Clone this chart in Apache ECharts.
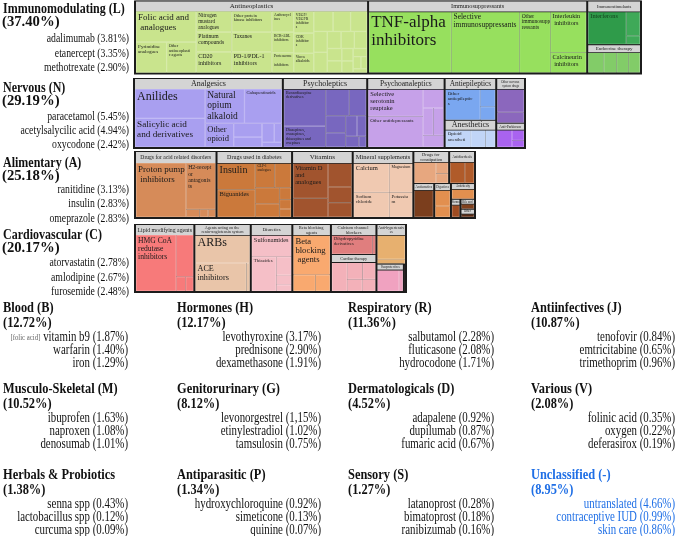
<!DOCTYPE html>
<html>
<head>
<meta charset="utf-8">
<script src="https://cdn.jsdelivr.net/npm/echarts@6.0.0/dist/echarts.min.js"></script>
<style>html,body{margin:0;padding:0;background:#fff}#chart{width:676px;height:536px}</style>
</head>
<body>
<div id="chart"></div>
<script>
// ================= DATA =================
// Top-4 therapeutic classes (left labels)
const mainClasses = ['Immunomodulating (L)', 'Nervous (N)', 'Alimentary (A)', 'Cardiovascular (C)'];
const mainShares = [37.40, 29.19, 25.18, 20.17];
const mainDrugs = [
  [['adalimumab', '3.81'], ['etanercept', '3.35'], ['methotrexate', '2.90']],
  [['paracetamol', '5.45'], ['acetylsalycilic acid', '4.94'], ['oxycodone', '2.42']],
  [['ranitidine', '3.13'], ['insulin', '2.83'], ['omeprazole', '2.83']],
  [['atorvastatin', '2.78'], ['amlodipine', '2.67'], ['furosemide', '2.48']]
];
// Other classes (bottom grid)
const otherClasses = ['Blood (B)', 'Hormones (H)', 'Respiratory (R)', 'Antiinfectives (J)',
  'Musculo-Skeletal (M)', 'Genitorurinary (G)', 'Dermatologicals (D)', 'Various (V)',
  'Herbals & Probiotics', 'Antiparasitic (P)', 'Sensory (S)', 'Unclassified (-)'];
const otherShares = [12.72, 12.17, 11.36, 10.87, 10.52, 8.12, 4.52, 2.08, 1.38, 1.34, 1.27, 8.95];
const otherDrugs = [
  [['vitamin b9', '1.87'], ['warfarin', '1.40'], ['iron', '1.29']],
  [['levothyroxine', '3.17'], ['prednisone', '2.90'], ['dexamethasone', '1.91']],
  [['salbutamol', '2.28'], ['fluticasone', '2.08'], ['hydrocodone', '1.71']],
  [['tenofovir', '0.84'], ['emtricitabine', '0.65'], ['trimethoprim', '0.96']],
  [['ibuprofen', '1.63'], ['naproxen', '1.08'], ['denosumab', '1.01']],
  [['levonorgestrel', '1,15'], ['etinylestradiol', '1.02'], ['tamsulosin', '0.75']],
  [['adapalene', '0.92'], ['dupilumab', '0.87'], ['fumaric acid', '0.67']],
  [['folinic acid', '0.35'], ['oxygen', '0.22'], ['deferasirox', '0.19']],
  [['senna spp', '0.43'], ['lactobacillus spp', '0.12'], ['curcuma spp', '0.09']],
  [['hydroxychloroquine', '0.92'], ['simeticone', '0.13'], ['quinine', '0.07']],
  [['latanoprost', '0.28'], ['bimatoprost', '0.18'], ['ranibizumab', '0.16']],
  [['untranslated', '4.66'], ['contraceptive IUD', '0.99'], ['skin care', '0.86']]
];

// Treemap level-2 groups per class, with their sizes
const immunoGroups = ['Antineoplastics', 'Immunosuppressants', 'Immunostimulants', 'Endocrine therapy'];
const immunoSizes = [17316, 16280, 2430, 1566];
const nervousGroups = ['Analgesics', 'Psycholeptics', 'Psychoanaleptics', 'Antiepileptics', 'Anesthetics', 'Other nervous system drugs', 'Anti-Parkinson drugs'];
const nervousSizes = [10650, 6035, 5538, 2236, 1456, 1334, 725];
const alimentaryGroups = ['Drugs for acid related disorders', 'Drugs used in diabetes', 'Vitamins', 'Mineral supplements', 'Drugs for constipation', 'Antidiarrheals', 'Antiemetics', 'Digestives', 'Antiobesity', 'Stomatological preparations', 'Bile and liver therapy', 'Other alimentary tract products'];
const alimentarySizes = [5576, 5168, 4148, 4148, 1188, 858, 735, 588, 392, 180, 150, 125];
const cardioGroups = ['Lipid modifying agents', 'Agents acting on the renin-angiotensin system', 'Diuretics', 'Beta blocking agents', 'Calcium channel blockers', 'Cardiac therapy', 'Anti-hypertensives', 'Vasoprotectives', 'Peripheral vasodilators'];
const cardioSizes = [4140, 3933, 2898, 2691, 1426, 1748, 1218, 783, 60];

// Named level-3 cells and unnamed small cells
const antineoplasticsCells = [['Folic acid and analogues', 1950], ['Pyrimidine analogues', 990], ['Other antineoplastic agents', 960],
  ['Nitrogen mustard analogues', 780], ['Platinum compounds', 740], ['CD20 inhibitors', 780],
  ['Other protein kinase inhibitors', 880], ['Taxanes', 840], ['PD-1/PDL-1 inhibitors', 880],
  ['Anthracyclines', 480], ['BCR-ABL inhibitors', 480], ['Proteasome inhibitors', 460], ['VEGF/VEGFR inhibitors', 460],
  ['CDK inhibitors', 430], ['Vinca alkaloids', 410]];
const antineoplasticsMinor = [410, 370, 350, 300, 290, 250, 240, 230, 190, 180, 150, 140, 120, 100, 80, 56];
const immunosuppressantsCells = [['TNF-alpha inhibitors', 5312], ['Selective immunosuppressants', 4400], ['Other immunosuppressants', 2000], ['Interleukin inhibitors', 1548], ['Calcineurin inhibitors', 756]];
const immunostimulantsCells = [['Interferons', 1350]];
const immunostimulantsMinor = [360, 126];
const endocrineMinor = [340, 280, 260, 250];

const analgesicsCells = [['Anilides', 2200], ['Salicylic acid and derivatives', 2150], ['Natural opium alkaloids', 1440], ['Gabapentinoids', 1368], ['Other opioids', 725]];
const analgesicsMinor = [420, 300, 250, 155, 100];
const psycholepticsCells = [['Benzodiazepine derivatives', 1638], ['Diazepines, oxazepines, thiazepines and oxepines', 924]];
const psycholepticsMinor = [667, 475, 360, 300, 250, 200, 150, 84];
const psychoanalepticsCells = [['Selective serotonin reuptake inhibitors', 1600], ['Other antidepressants', 1800]];
const psychoanalepticsMinor = [420, 302, 300, 260];
const antiepilepticsCells = [['Other antiepileptics', 1196]];
const antiepilepticsMinor = [300, 220];
const anestheticsCells = [['Opioid anesthetics', 520]];
const anestheticsMinor = [300, 200];
const otherNervousMinor = [600, 270];
const antiParkinsonMinor = [400, 200, 125];

const acidCells = [['Proton pump inhibitors', 2907], ['H2-receptor antagonists', 1470]];
const acidMinor = [110, 70, 60];
const diabetesCells = [['Insulin', 1092], ['Biguanides', 1131], ['GLP-1 analogues', 520]];
const diabetesMinor = [442, 425, 350, 150, 120, 100];
const vitaminsCells = [['Vitamin D and analogues', 1360]];
const vitaminsMinor = [714, 621, 408, 374];
const mineralCells = [['Calcium', 1147], ['Sodium chloride', 962], ['Magnesium', 744], ['Potassium', 624]];
const constipationMinor = [520, 160, 130];
const antidiarrhealsMinor = [350, 220];
const antiemeticsMinor = [580];
const digestivesMinor = [250, 170];
const antiobesityMinor = [250];
const stomatologicalMinor = [100];
const bileMinor = [90];
const otherAlimentaryMinor = [70];

const lipidCells = [['HMG CoA redutase inhibitors', 2478]];
const lipidMinor = [792, 150, 120];
const rasCells = [['ARBs', 1600], ['ACE inhibitors', 1500]];
const rasMinor = [100];
const diureticsCells = [['Sulfonamides', 936], ['Thiazides', 910]];
const diureticsMinor = [300, 160, 100];
const betaCells = [['Beta blocking agents', 1638]];
const betaMinor = [400, 263];
const ccbCells = [['Dihydropyridine derivatives', 900]];
const ccbMinor = [66];
const cardiacMinor = [500, 300, 250, 200, 176];
const antihypMinor = [700, 128];
const vasoMinor = [450, 80];
const peripheralMinor = [60];

// ================= STYLE / LAYOUT =================
const SERIF = '"Liberation Serif", "Times New Roman", serif';
const DARK = '#1c1c1c';
const HEADER_BG = '#d4d4d4';
const SX = 0.8; // horizontal text compression seen in the picture

const groupCells = {
  'Antineoplastics': antineoplasticsCells, 'Immunosuppressants': immunosuppressantsCells, 'Immunostimulants': immunostimulantsCells,
  'Analgesics': analgesicsCells, 'Psycholeptics': psycholepticsCells, 'Psychoanaleptics': psychoanalepticsCells,
  'Antiepileptics': antiepilepticsCells, 'Anesthetics': anestheticsCells,
  'Drugs for acid related disorders': acidCells, 'Drugs used in diabetes': diabetesCells, 'Vitamins': vitaminsCells, 'Mineral supplements': mineralCells,
  'Lipid modifying agents': lipidCells, 'Agents acting on the renin-angiotensin system': rasCells, 'Diuretics': diureticsCells,
  'Beta blocking agents': betaCells, 'Calcium channel blockers': ccbCells
};
const groupMinor = {
  'Antineoplastics': antineoplasticsMinor, 'Immunostimulants': immunostimulantsMinor, 'Endocrine therapy': endocrineMinor,
  'Analgesics': analgesicsMinor, 'Psycholeptics': psycholepticsMinor, 'Psychoanaleptics': psychoanalepticsMinor,
  'Antiepileptics': antiepilepticsMinor, 'Anesthetics': anestheticsMinor, 'Other nervous system drugs': otherNervousMinor, 'Anti-Parkinson drugs': antiParkinsonMinor,
  'Drugs for acid related disorders': acidMinor, 'Drugs used in diabetes': diabetesMinor, 'Vitamins': vitaminsMinor,
  'Drugs for constipation': constipationMinor, 'Antidiarrheals': antidiarrhealsMinor, 'Antiemetics': antiemeticsMinor, 'Digestives': digestivesMinor,
  'Antiobesity': antiobesityMinor, 'Stomatological preparations': stomatologicalMinor, 'Bile and liver therapy': bileMinor, 'Other alimentary tract products': otherAlimentaryMinor,
  'Lipid modifying agents': lipidMinor, 'Agents acting on the renin-angiotensin system': rasMinor, 'Diuretics': diureticsMinor,
  'Beta blocking agents': betaMinor, 'Calcium channel blockers': ccbMinor, 'Cardiac therapy': cardiacMinor,
  'Anti-hypertensives': antihypMinor, 'Vasoprotectives': vasoMinor, 'Peripheral vasodilators': peripheralMinor
};
const groupColor = {
  'Antineoplastics': '#c9e48d', 'Immunosuppressants': '#97e05e', 'Immunostimulants': '#3fa958', 'Endocrine therapy': '#82cc68',
  'Analgesics': '#a99ff0', 'Psycholeptics': '#7867bf', 'Psychoanaleptics': '#c6a1e9', 'Antiepileptics': '#7aa7f0',
  'Anesthetics': '#c1d5f7', 'Other nervous system drugs': '#8b67bd', 'Anti-Parkinson drugs': '#a963ef',
  'Drugs for acid related disorders': '#d68b59', 'Drugs used in diabetes': '#cb793b', 'Vitamins': '#a1542e', 'Mineral supplements': '#f0c9b1',
  'Drugs for constipation': '#e7a77f', 'Antidiarrheals': '#b05b2a', 'Antiemetics': '#7b3e1d', 'Digestives': '#e28f4f', 'Antiobesity': '#e28f4f',
  'Stomatological preparations': '#9f4c22', 'Bile and liver therapy': '#7f401d', 'Other alimentary tract products': '#5b2b13',
  'Lipid modifying agents': '#f77a7a', 'Agents acting on the renin-angiotensin system': '#e9c5a9', 'Diuretics': '#f5bfc7',
  'Beta blocking agents': '#f9a96f', 'Calcium channel blockers': '#e07e7e', 'Cardiac therapy': '#f3b1b9',
  'Anti-hypertensives': '#e7b06f', 'Vasoprotectives': '#f0a2c0', 'Peripheral vasodilators': '#8c1b2c'
};
const headerHeight = {
  'Antineoplastics': 10, 'Immunosuppressants': 10, 'Immunostimulants': 10, 'Endocrine therapy': 7,
  'Analgesics': 10, 'Psycholeptics': 10, 'Psychoanaleptics': 10, 'Antiepileptics': 10, 'Anesthetics': 9, 'Other nervous system drugs': 10, 'Anti-Parkinson drugs': 6,
  'Drugs for acid related disorders': 11, 'Drugs used in diabetes': 11, 'Vitamins': 11, 'Mineral supplements': 11, 'Drugs for constipation': 10, 'Antidiarrheals': 10,
  'Antiemetics': 6, 'Digestives': 6, 'Antiobesity': 5, 'Stomatological preparations': 5, 'Bile and liver therapy': 4, 'Other alimentary tract products': 4,
  'Lipid modifying agents': 10, 'Agents acting on the renin-angiotensin system': 10, 'Diuretics': 10, 'Beta blocking agents': 10, 'Calcium channel blockers': 10,
  'Cardiac therapy': 7, 'Anti-hypertensives': 10, 'Vasoprotectives': 5, 'Peripheral vasodilators': 0
};
const headerFont = {
  'Antineoplastics': 7, 'Immunosuppressants': 6.3, 'Immunostimulants': 4.6, 'Endocrine therapy': 5,
  'Analgesics': 8, 'Psycholeptics': 8, 'Psychoanaleptics': 7.5, 'Antiepileptics': 7.4, 'Anesthetics': 8, 'Other nervous system drugs': 3.2, 'Anti-Parkinson drugs': 3.6,
  'Drugs for acid related disorders': 5.6, 'Drugs used in diabetes': 6, 'Vitamins': 7, 'Mineral supplements': 6.5, 'Drugs for constipation': 4.5, 'Antidiarrheals': 3.4,
  'Antiemetics': 3.4, 'Digestives': 3, 'Antiobesity': 3, 'Stomatological preparations': 3, 'Bile and liver therapy': 3, 'Other alimentary tract products': 3,
  'Lipid modifying agents': 5.8, 'Agents acting on the renin-angiotensin system': 4.2, 'Diuretics': 5, 'Beta blocking agents': 4.4, 'Calcium channel blockers': 4.6,
  'Cardiac therapy': 4.2, 'Anti-hypertensives': 3.8, 'Vasoprotectives': 3
};
const labelSize = {
  'Folic acid and analogues': 9, 'Pyrimidine analogues': 5, 'Other antineoplastic agents': 4.2, 'Nitrogen mustard analogues': 5.2,
  'Platinum compounds': 5.6, 'CD20 inhibitors': 6, 'Other protein kinase inhibitors': 4.3, 'Taxanes': 5.6, 'PD-1/PDL-1 inhibitors': 6,
  'Anthracyclines': 3.8, 'BCR-ABL inhibitors': 3.8, 'Proteasome inhibitors': 3.8, 'VEGF/VEGFR inhibitors': 3.8, 'CDK inhibitors': 3.8, 'Vinca alkaloids': 3.8,
  'TNF-alpha inhibitors': 17, 'Selective immunosuppressants': 7.5, 'Other immunosuppressants': 5.5, 'Interleukin inhibitors': 6.3, 'Calcineurin inhibitors': 6.3, 'Interferons': 6.3,
  'Anilides': 12, 'Salicylic acid and derivatives': 9.2, 'Natural opium alkaloids': 9.5, 'Gabapentinoids': 4.6, 'Other opioids': 8.5,
  'Benzodiazepine derivatives': 4, 'Diazepines, oxazepines, thiazepines and oxepines': 4, 'Selective serotonin reuptake inhibitors': 6.5, 'Other antidepressants': 5,
  'Other antiepileptics': 5, 'Opioid anesthetics': 5,
  'Proton pump inhibitors': 9, 'H2-receptor antagonists': 5.8, 'Insulin': 10, 'GLP-1 analogues': 3.4, 'Biguanides': 6.5, 'Vitamin D and analogues': 6.5,
  'Calcium': 6.5, 'Sodium chloride': 5, 'Magnesium': 4, 'Potassium': 5,
  'HMG CoA redutase inhibitors': 7.6, 'ARBs': 12, 'ACE inhibitors': 8.2, 'Sulfonamides': 6.3, 'Thiazides': 4.8, 'Beta blocking agents': 8.6, 'Dihydropyridine derivatives': 4.5
};
const leafColor = { 'Interferons': '#2f9b4a' };
const labelColor = { 'Interferons': '#143f1c' };
const blockSpec = { 'Antineoplastics': [3, 3, 3], 'Analgesics': [2, 2] };

const rowGroups = [immunoGroups, nervousGroups, alimentaryGroups, cardioGroups];
const rowSizes = [immunoSizes, nervousSizes, alimentarySizes, cardioSizes];
const rowBoxes = [[134, 0.5, 508, 74], [133, 78, 393, 71], [134, 151, 342, 68], [134, 224, 273, 69]];
const rowSquare = [1, 1.618, 1, 1];

function leafNode(name, value, color, edge) {
  const fs = labelSize[name] || 4;
  return {
    name, value,
    itemStyle: { color, borderColor: edge, borderWidth: 0.6 },
    label: name ? { show: true, fontSize: fs, lineHeight: fs * 1.08, color: labelColor[name] || '#1a1a1a' } : { show: false }
  };
}
function blockNode(kids, color) {
  return {
    name: '', children: kids,
    itemStyle: { color, borderColor: color, borderWidth: 0, gapWidth: 0 },
    upperLabel: { show: false }, label: { show: false }
  };
}
function groupNode(name, size) {
  const color = groupColor[name];
  const edge = echarts.color.lift(color, 0.35);
  const kids = (groupCells[name] || []).map(([n, v]) => leafNode(n, v, leafColor[n] || color, edge));
  (groupMinor[name] || []).forEach(v => kids.push(leafNode('', v, color, edge)));
  let children = kids;
  const spec = blockSpec[name];
  if (spec) {
    children = []; let p = 0;
    spec.forEach(c => { children.push(blockNode(kids.slice(p, p + c), color)); p += c; });
    if (p < kids.length) children.push(blockNode(kids.slice(p), color));
  }
  const hh = headerHeight[name] || 0;
  const fs = headerFont[name] || 4;
  return {
    name, value: size, children,
    itemStyle: { color, borderColor: DARK, borderWidth: 1, gapWidth: 0 },
    upperLabel: {
      show: hh > 0, height: hh, fontSize: fs, lineHeight: fs + 0.4, color: '#222', fontFamily: SERIF,
      backgroundColor: HEADER_BG, borderColor: DARK, borderWidth: 0.8, align: 'center', verticalAlign: 'middle',
      position: 'inside', overflow: 'break', padding: 0, distance: 0
    }
  };
}
function makeSeries(i) {
  const [l, t, w, h] = rowBoxes[i];
  return {
    type: 'treemap', left: l, top: t, width: w, height: h,
    roam: false, nodeClick: false, silent: true, animation: false,
    breadcrumb: { show: false }, sort: false, squareRatio: rowSquare[i], visibleMin: 0, drillDownIcon: '',
    label: { show: true, position: 'insideTopLeft', color: '#1a1a1a', fontFamily: SERIF, overflow: 'break', padding: [1, 1.5], distance: 0 },
    upperLabel: { show: false },
    itemStyle: { borderWidth: 0, gapWidth: 0 },
    levels: [{ itemStyle: { borderColor: DARK, borderWidth: 1, gapWidth: 0 }, upperLabel: { show: false } }],
    emphasis: { disabled: true },
    data: rowGroups[i].map((g, k) => groupNode(g, rowSizes[i][k]))
  };
}

// ---- text blocks (graphic elements) ----
function txt(x, y, text, font, align, fill, rich, sx) {
  const style = { text, font, fill: fill || '#111', align, verticalAlign: 'middle', textAlign: align, textVerticalAlign: 'middle' };
  if (rich) style.rich = rich;
  return { type: 'text', x, y, scaleX: sx || SX, silent: true, style };
}
const graphics = [];
const mainTitleY = [9.3, 88.3, 163.3, 235];
const mainDrugY = [39.3, 116.7, 190, 263.3];
mainClasses.forEach((c, i) => {
  graphics.push(txt(3, mainTitleY[i], c, 'bold 15px ' + SERIF, 'left'));
  graphics.push(txt(2, mainTitleY[i] + 13.2, '(' + mainShares[i].toFixed(2) + '%)', 'bold 15px ' + SERIF, 'left', null, null, 0.98));
  mainDrugs[i].forEach((d, j) => {
    graphics.push(txt(129, mainDrugY[i] + j * 14.3, d[0] + ' (' + d[1] + '%)', '12.2px ' + SERIF, 'right'));
  });
});
const colTitleX = [3, 177, 348, 531];
const colRightX = [128, 321, 494, 675];
const rowTitleY = [308, 389, 475];
otherClasses.forEach((c, i) => {
  const col = i % 4, row = Math.floor(i / 4);
  const fill = c.indexOf('Unclassified') === 0 ? '#1f6fe6' : '#111';
  const y0 = rowTitleY[row];
  graphics.push(txt(colTitleX[col], y0, c, 'bold 15.5px ' + SERIF, 'left', fill));
  graphics.push(txt(colTitleX[col], y0 + 15, '(' + otherShares[i].toFixed(2) + '%)', 'bold 15.5px ' + SERIF, 'left', fill));
  otherDrugs[i].forEach((d, j) => {
    const label = d[0] + ' (' + d[1] + '%)';
    const isB9 = d[0] === 'vitamin b9';
    graphics.push(txt(colRightX[col], y0 + 29.7 + j * 12.9, isB9 ? '{s|[folic acid]} ' + label : label, '13.6px ' + SERIF, 'right', fill,
      isB9 ? { s: { font: '8.5px ' + SERIF, fill: '#666' } } : null));
  });
});

const chart = echarts.init(document.getElementById('chart'), null, { renderer: 'canvas' });
chart.setOption({
  backgroundColor: '#ffffff',
  animation: false,
  series: [0, 1, 2, 3].map(makeSeries),
  graphic: graphics
});
</script>
</body>
</html>
